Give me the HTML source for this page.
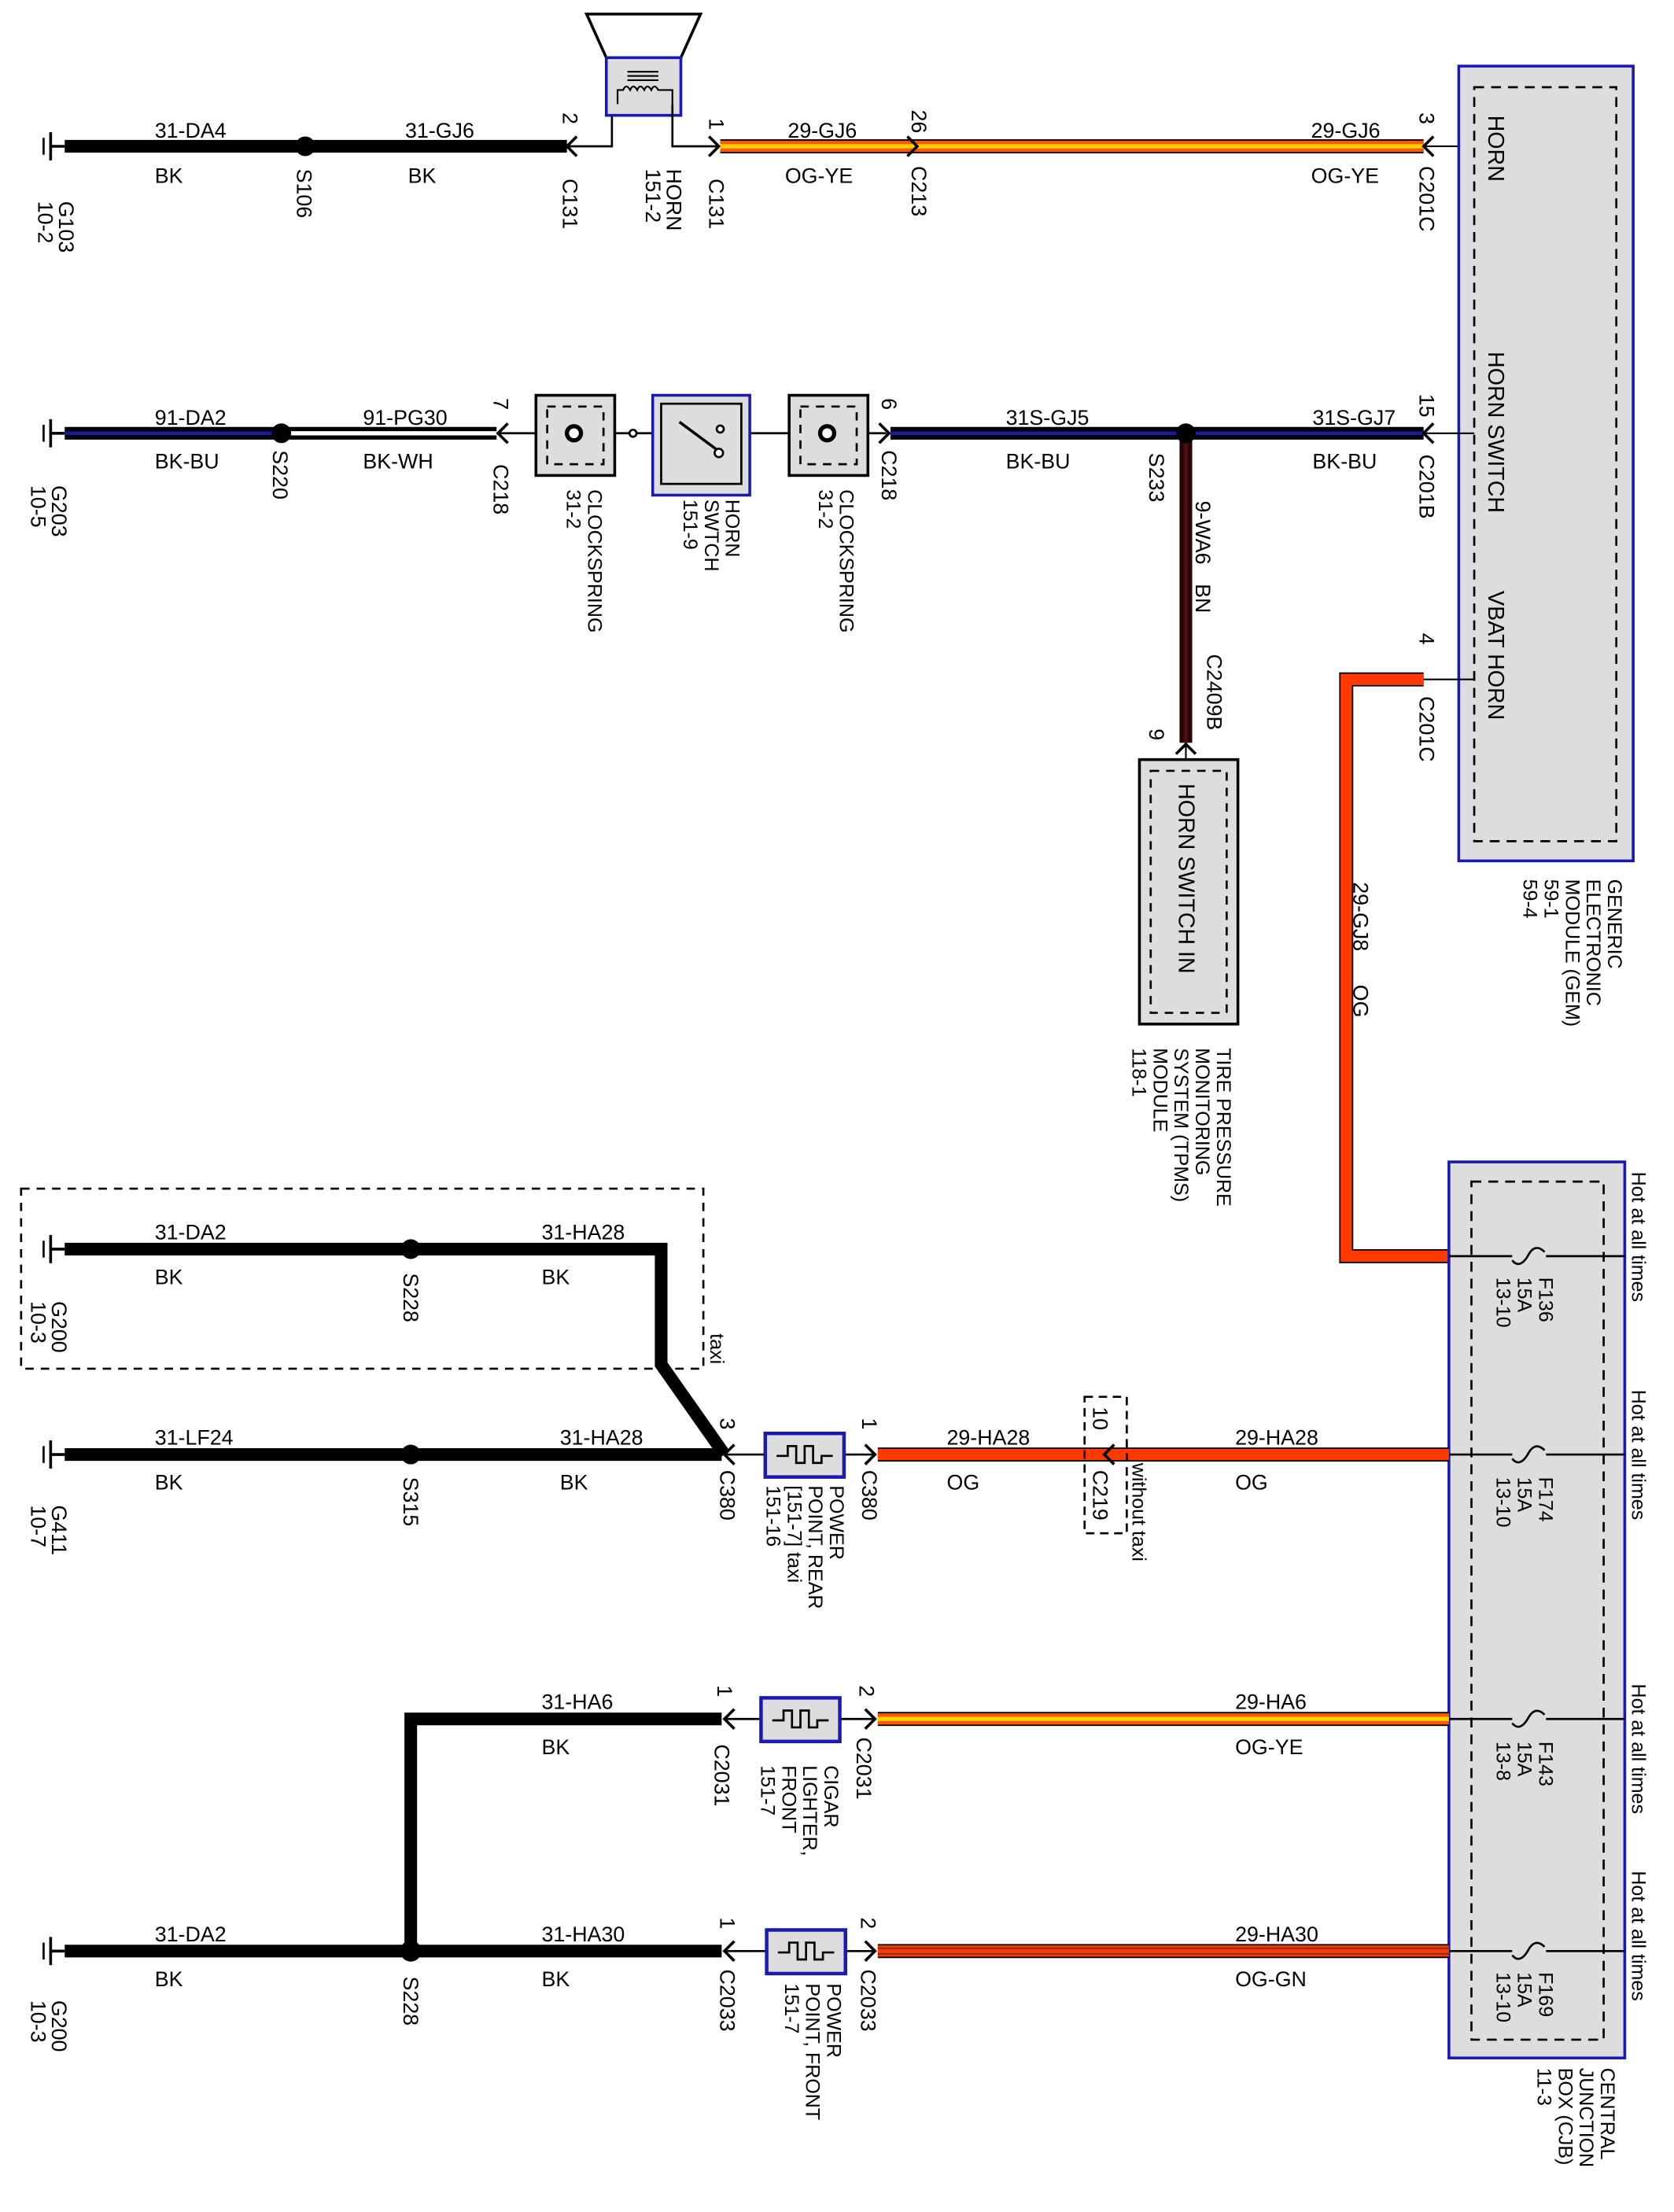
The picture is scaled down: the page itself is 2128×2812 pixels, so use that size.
<!DOCTYPE html>
<html><head><meta charset="utf-8"><style>
html,body{margin:0;padding:0;background:#fff}
svg{display:block}
text{font-family:"Liberation Sans",Arial,sans-serif;font-size:15px;fill:#000}
.s{font-size:14px}
.b{font-size:16px}
</style></head><body>
<svg width="2128" height="2812" viewBox="0 0 1190 1572.5" xmlns="http://www.w3.org/2000/svg">
<defs>
<g id="gnd"><line x1="36" y1="-10" x2="36" y2="10" stroke="#000" stroke-width="2"/><line x1="31" y1="-6" x2="31" y2="6" stroke="#000" stroke-width="1.5"/><line x1="36" y1="0" x2="46" y2="0" stroke="#000" stroke-width="2"/></g>
<path id="chL" d="M7,-7 L0,0 L7,7" fill="none" stroke="#000" stroke-width="2"/>
<path id="chR" d="M-7,-7 L0,0 L-7,7" fill="none" stroke="#000" stroke-width="2"/>
<g id="heat"><rect x="0" y="-15" width="56" height="31" fill="#ddd" stroke="#1a1ab0" stroke-width="2.5"/><path d="M8,1 H16 V-6 H22 V6 H28 V-6 H34 V6 H40 V1 H48" fill="none" stroke="#000" stroke-width="1.5"/></g>
</defs>

<!-- ROW 1 -->
<use href="#gnd" x="0" y="104"/>
<line x1="46" y1="104" x2="403" y2="104" stroke="#000" stroke-width="9"/>
<circle cx="217" cy="104" r="7"/>
<use href="#chL" x="403" y="104"/>
<polyline points="403,104 435,104 435,82" fill="none" stroke="#000" stroke-width="1.5"/>
<polygon points="417,10 498,10 484,41 431,41" fill="none" stroke="#000" stroke-width="2"/>
<rect x="431" y="41" width="53" height="41" fill="#ddd" stroke="#1a1ab0" stroke-width="2"/>
<g stroke="#000" stroke-width="1.2" fill="none"><line x1="446" y1="51" x2="468" y2="51"/><line x1="446" y1="54" x2="468" y2="54"/><line x1="446" y1="57" x2="468" y2="57"/>
<path d="M439,74 V64 H443 q2,-5 5,0 q2,-5 5,0 q2,-5 5,0 q2,-5 5,0 q2,-5 5,0 H478 V74"/></g>
<polyline points="478,74 478,104 510,104" fill="none" stroke="#000" stroke-width="1.5"/>
<use href="#chR" x="511" y="104"/>
<line x1="512" y1="104" x2="1012" y2="104" stroke="#000" stroke-width="10"/>
<line x1="512" y1="104" x2="1012" y2="104" stroke="#ff5a00" stroke-width="8"/>
<line x1="512" y1="104" x2="1012" y2="104" stroke="#ffd000" stroke-width="3"/>
<use href="#chR" x="652" y="104"/>
<use href="#chL" x="1012" y="104"/>
<line x1="1012" y1="104" x2="1048" y2="104" stroke="#000" stroke-width="1.2"/>

<text x="110" y="98">31-DA4</text><text x="110" y="130">BK</text>
<text x="288" y="98">31-GJ6</text><text x="290" y="130">BK</text>
<text x="560" y="98">29-GJ6</text><text x="558" y="130">OG-YE</text>
<text x="932" y="98">29-GJ6</text><text x="932" y="130">OG-YE</text>
<text transform="translate(42,143) rotate(90)">G103<tspan x="0" dy="15">10-2</tspan></text>
<text transform="translate(211,120) rotate(90)">S106</text>
<text transform="translate(400,80) rotate(90)">2</text>
<text transform="translate(400,127) rotate(90)">C131</text>
<text transform="translate(474,120) rotate(90)">HORN<tspan x="0" dy="15">151-2</tspan></text>
<text transform="translate(504,84) rotate(90)">1</text>
<text transform="translate(504,127) rotate(90)">C131</text>
<text transform="translate(648,78) rotate(90)">26</text>
<text transform="translate(648,118) rotate(90)">C213</text>
<text transform="translate(1009,80) rotate(90)">3</text>
<text transform="translate(1009,118) rotate(90)">C201C</text>

<!-- GEM -->
<rect x="1037" y="47" width="124" height="565" fill="#ddd" stroke="#1a1ab0" stroke-width="2"/>
<rect x="1048" y="62" width="101" height="536" fill="none" stroke="#000" stroke-width="1.5" stroke-dasharray="7,5"/>
<line x1="1012" y1="308" x2="1048" y2="308" stroke="#000" stroke-width="1.2"/>
<line x1="1012" y1="483" x2="1048" y2="483" stroke="#000" stroke-width="1.2"/>
<text class="b" transform="translate(1058,82) rotate(90)">HORN</text>
<text class="b" transform="translate(1058,250) rotate(90)">HORN SWITCH</text>
<text class="b" transform="translate(1058,420) rotate(90)">VBAT HORN</text>
<text class="s" transform="translate(1143,625) rotate(90)">GENERIC<tspan x="0" dy="15">ELECTRONIC</tspan><tspan x="0" dy="15">MODULE (GEM)</tspan><tspan x="0" dy="15">59-1</tspan><tspan x="0" dy="15">59-4</tspan></text>

<!-- ROW 2 -->
<use href="#gnd" x="0" y="308"/>
<line x1="46" y1="308" x2="198" y2="308" stroke="#000" stroke-width="9"/>
<line x1="46" y1="308" x2="198" y2="308" stroke="#1a1aa0" stroke-width="2.5"/>
<line x1="202" y1="308" x2="353" y2="308" stroke="#000" stroke-width="9"/>
<line x1="202" y1="308" x2="353" y2="308" stroke="#fff" stroke-width="3"/>
<circle cx="200" cy="308" r="7"/>
<use href="#chL" x="354" y="308"/>
<line x1="354" y1="308" x2="630" y2="308" stroke="#000" stroke-width="1.5"/>
<rect x="381" y="281" width="56" height="57" fill="#ddd" stroke="#000" stroke-width="2"/>
<rect x="389" y="289" width="40" height="41" fill="none" stroke="#000" stroke-width="1.5" stroke-dasharray="6,5"/>
<circle cx="408" cy="308" r="5" fill="#fff" stroke="#000" stroke-width="3"/>
<circle cx="450" cy="308" r="2.5" fill="#fff" stroke="#000" stroke-width="1.5"/>
<rect x="464" y="281" width="69" height="71" fill="#ddd" stroke="#1a1ab0" stroke-width="2"/>
<rect x="470" y="287" width="57" height="57" fill="none" stroke="#000" stroke-width="1.5"/>
<line x1="483" y1="300" x2="510" y2="320" stroke="#000" stroke-width="2"/>
<circle cx="511" cy="322" r="3" fill="#fff" stroke="#000" stroke-width="1.5"/>
<circle cx="512" cy="305" r="2.5" fill="#fff" stroke="#000" stroke-width="1.5"/>
<rect x="561" y="281" width="56" height="57" fill="#ddd" stroke="#000" stroke-width="2"/>
<rect x="569" y="289" width="40" height="41" fill="none" stroke="#000" stroke-width="1.5" stroke-dasharray="6,5"/>
<circle cx="588" cy="308" r="5" fill="#fff" stroke="#000" stroke-width="3"/>
<use href="#chR" x="632" y="308"/>
<line x1="633" y1="308" x2="1012" y2="308" stroke="#000" stroke-width="9"/>
<line x1="633" y1="308" x2="1012" y2="308" stroke="#1a1aa0" stroke-width="2.5"/>
<line x1="843" y1="312" x2="843" y2="528" stroke="#2a0505" stroke-width="9"/>
<line x1="843" y1="312" x2="843" y2="528" stroke="#4a1010" stroke-width="3"/>
<circle cx="843" cy="308" r="7"/>
<use href="#chL" x="1012" y="308"/>

<text x="110" y="302">91-DA2</text><text x="110" y="333">BK-BU</text>
<text x="258" y="302">91-PG30</text><text x="258" y="333">BK-WH</text>
<text x="715" y="302">31S-GJ5</text><text x="715" y="333">BK-BU</text>
<text x="933" y="302">31S-GJ7</text><text x="933" y="333">BK-BU</text>
<text transform="translate(37,345) rotate(90)">G203<tspan x="0" dy="15">10-5</tspan></text>
<text transform="translate(194,320) rotate(90)">S220</text>
<text transform="translate(351,283) rotate(90)">7</text>
<text transform="translate(351,330) rotate(90)">C218</text>
<text class="s" transform="translate(418,348) rotate(90)">CLOCKSPRING<tspan x="0" dy="15">31-2</tspan></text>
<text class="s" transform="translate(516,355) rotate(90)">HORN<tspan x="0" dy="15">SWTCH</tspan><tspan x="0" dy="15">151-9</tspan></text>
<text class="s" transform="translate(597,348) rotate(90)">CLOCKSPRING<tspan x="0" dy="15">31-2</tspan></text>
<text transform="translate(627,283) rotate(90)">6</text>
<text transform="translate(627,320) rotate(90)">C218</text>
<text transform="translate(817,322) rotate(90)">S233</text>
<text transform="translate(850,356) rotate(90)">9-WA6</text>
<text transform="translate(850,415) rotate(90)">BN</text>
<text transform="translate(858,465) rotate(90)">C2409B</text>
<text transform="translate(1009,280) rotate(90)">15</text>
<text transform="translate(1009,323) rotate(90)">C201B</text>
<text transform="translate(1009,450) rotate(90)">4</text>
<text transform="translate(1009,495) rotate(90)">C201C</text>

<!-- TPMS -->
<path d="M836,536 L843,529 L850,536" fill="none" stroke="#000" stroke-width="2"/>
<line x1="843" y1="529" x2="843" y2="548" stroke="#000" stroke-width="1.2"/>
<rect x="810" y="540" width="70" height="188" fill="#ddd" stroke="#000" stroke-width="2"/>
<rect x="818" y="548" width="54" height="172" fill="none" stroke="#000" stroke-width="1.5" stroke-dasharray="6,5"/>
<text class="b" transform="translate(838,557) rotate(90)">HORN SWITCH IN</text>
<text transform="translate(817,518) rotate(90)">9</text>
<text class="s" transform="translate(865,745) rotate(90)">TIRE PRESSURE<tspan x="0" dy="15">MONITORING</tspan><tspan x="0" dy="15">SYSTEM (TPMS)</tspan><tspan x="0" dy="15">MODULE</tspan><tspan x="0" dy="15">118-1</tspan></text>

<!-- VBAT wire -->
<path d="M1012,483 H957 V893 H1030" fill="none" stroke="#000" stroke-width="10"/>
<path d="M1012,483 H957 V893 H1030" fill="none" stroke="#ff3a00" stroke-width="8"/>
<text transform="translate(962,627) rotate(90)">29-GJ8</text>
<text transform="translate(962,700) rotate(90)">OG</text>

<!-- CJB -->
<rect x="1030" y="826" width="125" height="637" fill="#ddd" stroke="#1a1ab0" stroke-width="2"/>
<rect x="1046" y="840" width="94" height="610" fill="none" stroke="#000" stroke-width="1.5" stroke-dasharray="7,5"/>
<g fill="none" stroke="#000" stroke-width="1.5">
<path d="M1030,893 H1075 M1075,896 C1079,901 1083,898 1086,893 C1089,887 1093,885 1098,890 M1099,893 H1155"/>
<path d="M1030,1034 H1075 M1075,1037 C1079,1042 1083,1039 1086,1034 C1089,1028 1093,1026 1098,1031 M1099,1034 H1155"/>
<path d="M1030,1222 H1075 M1075,1225 C1079,1230 1083,1227 1086,1222 C1089,1216 1093,1214 1098,1219 M1099,1222 H1155"/>
<path d="M1030,1387 H1075 M1075,1390 C1079,1395 1083,1392 1086,1387 C1089,1381 1093,1379 1098,1384 M1099,1387 H1155"/>
</g>
<text class="s" transform="translate(1094,908) rotate(90)">F136<tspan x="0" dy="15">15A</tspan><tspan x="0" dy="15">13-10</tspan></text>
<text class="s" transform="translate(1094,1050) rotate(90)">F174<tspan x="0" dy="15">15A</tspan><tspan x="0" dy="15">13-10</tspan></text>
<text class="s" transform="translate(1094,1238) rotate(90)">F143<tspan x="0" dy="15">15A</tspan><tspan x="0" dy="15">13-8</tspan></text>
<text class="s" transform="translate(1094,1402) rotate(90)">F169<tspan x="0" dy="15">15A</tspan><tspan x="0" dy="15">13-10</tspan></text>
<text class="s" transform="translate(1160,833) rotate(90)">Hot at all times</text>
<text class="s" transform="translate(1160,988) rotate(90)">Hot at all times</text>
<text class="s" transform="translate(1160,1197) rotate(90)">Hot at all times</text>
<text class="s" transform="translate(1160,1330) rotate(90)">Hot at all times</text>
<text class="s" transform="translate(1138,1470) rotate(90)">CENTRAL<tspan x="0" dy="15">JUNCTION</tspan><tspan x="0" dy="15">BOX (CJB)</tspan><tspan x="0" dy="15">11-3</tspan></text>

<!-- TAXI box -->
<rect x="15" y="845" width="485" height="128" fill="none" stroke="#000" stroke-width="1.5" stroke-dasharray="6,5"/>
<use href="#gnd" x="0" y="888"/>
<path d="M46,888 H470 V970 L515,1034" fill="none" stroke="#000" stroke-width="9" stroke-linejoin="miter"/>
<circle cx="292" cy="888" r="7"/>
<text x="110" y="881">31-DA2</text><text x="110" y="913">BK</text>
<text x="385" y="881">31-HA28</text><text x="385" y="913">BK</text>
<text transform="translate(37,925) rotate(90)">G200<tspan x="0" dy="15">10-3</tspan></text>
<text transform="translate(287,905) rotate(90)">S228</text>
<text class="s" transform="translate(505,948) rotate(90)">taxi</text>

<!-- ROW 4 -->
<use href="#gnd" x="0" y="1034"/>
<line x1="46" y1="1034" x2="513" y2="1034" stroke="#000" stroke-width="9"/>
<circle cx="292" cy="1034" r="7"/>
<use href="#chL" x="515" y="1034"/>
<line x1="515" y1="1034" x2="621" y2="1034" stroke="#000" stroke-width="1.5"/>
<use href="#heat" x="544" y="1034"/>
<use href="#chR" x="622" y="1034"/>
<line x1="624" y1="1034" x2="1030" y2="1034" stroke="#000" stroke-width="10"/>
<line x1="624" y1="1034" x2="1030" y2="1034" stroke="#ff3a00" stroke-width="8"/>
<rect x="771" y="993" width="30" height="97" fill="none" stroke="#000" stroke-width="1.5" stroke-dasharray="6,4"/>
<use href="#chL" x="785" y="1034"/>
<text x="110" y="1027">31-LF24</text><text x="110" y="1059">BK</text>
<text x="398" y="1027">31-HA28</text><text x="398" y="1059">BK</text>
<text x="673" y="1027">29-HA28</text><text x="673" y="1059">OG</text>
<text x="878" y="1027">29-HA28</text><text x="878" y="1059">OG</text>
<text transform="translate(37,1070) rotate(90)">G411<tspan x="0" dy="15">10-7</tspan></text>
<text transform="translate(287,1050) rotate(90)">S315</text>
<text transform="translate(512,1008) rotate(90)">3</text>
<text transform="translate(512,1045) rotate(90)">C380</text>
<text transform="translate(613,1008) rotate(90)">1</text>
<text transform="translate(613,1045) rotate(90)">C380</text>
<text class="s" transform="translate(590,1056) rotate(90)">POWER<tspan x="0" dy="15">POINT, REAR</tspan><tspan x="0" dy="15">[151-7]  taxi</tspan><tspan x="0" dy="15">151-16</tspan></text>
<text transform="translate(777,1000) rotate(90)">10</text>
<text transform="translate(777,1045) rotate(90)">C219</text>
<text class="s" transform="translate(805,1040) rotate(90)">without taxi</text>

<!-- ROW 5 -->
<path d="M292,1387 V1222 H513" fill="none" stroke="#000" stroke-width="9"/>
<use href="#chL" x="515" y="1222"/>
<line x1="515" y1="1222" x2="621" y2="1222" stroke="#000" stroke-width="1.5"/>
<use href="#heat" x="541" y="1222"/>
<use href="#chR" x="622" y="1222"/>
<line x1="624" y1="1222" x2="1030" y2="1222" stroke="#000" stroke-width="10"/>
<line x1="624" y1="1222" x2="1030" y2="1222" stroke="#ff5a00" stroke-width="8"/>
<line x1="624" y1="1222" x2="1030" y2="1222" stroke="#ffd000" stroke-width="3"/>
<text x="385" y="1215">31-HA6</text><text x="385" y="1247">BK</text>
<text x="878" y="1215">29-HA6</text><text x="878" y="1247">OG-YE</text>
<text transform="translate(510,1198) rotate(90)">1</text>
<text transform="translate(508,1240) rotate(90)">C2031</text>
<text transform="translate(611,1198) rotate(90)">2</text>
<text transform="translate(609,1235) rotate(90)">C2031</text>
<text class="s" transform="translate(586,1255) rotate(90)">CIGAR<tspan x="0" dy="15">LIGHTER,</tspan><tspan x="0" dy="15">FRONT</tspan><tspan x="0" dy="15">151-7</tspan></text>

<!-- ROW 6 -->
<use href="#gnd" x="0" y="1387"/>
<line x1="46" y1="1387" x2="513" y2="1387" stroke="#000" stroke-width="9"/>
<circle cx="292" cy="1387" r="7.5"/>
<use href="#chL" x="515" y="1387"/>
<line x1="515" y1="1387" x2="621" y2="1387" stroke="#000" stroke-width="1.5"/>
<use href="#heat" x="545" y="1387"/>
<use href="#chR" x="622" y="1387"/>
<line x1="624" y1="1387" x2="1030" y2="1387" stroke="#000" stroke-width="10"/>
<line x1="624" y1="1387" x2="1030" y2="1387" stroke="#ff3a00" stroke-width="8"/>
<line x1="624" y1="1385" x2="1030" y2="1385" stroke="#7a2a00" stroke-width="1"/>
<line x1="624" y1="1389" x2="1030" y2="1389" stroke="#7a2a00" stroke-width="1"/>
<text x="110" y="1380">31-DA2</text><text x="110" y="1412">BK</text>
<text x="385" y="1380">31-HA30</text><text x="385" y="1412">BK</text>
<text x="878" y="1380">29-HA30</text><text x="878" y="1412">OG-GN</text>
<text transform="translate(37,1422) rotate(90)">G200<tspan x="0" dy="15">10-3</tspan></text>
<text transform="translate(287,1405) rotate(90)">S228</text>
<text transform="translate(512,1363) rotate(90)">1</text>
<text transform="translate(512,1400) rotate(90)">C2033</text>
<text transform="translate(612,1363) rotate(90)">2</text>
<text transform="translate(612,1400) rotate(90)">C2033</text>
<text class="s" transform="translate(588,1410) rotate(90)">POWER<tspan x="0" dy="15">POINT, FRONT</tspan><tspan x="0" dy="15">151-7</tspan></text>
</svg>
</body></html>
